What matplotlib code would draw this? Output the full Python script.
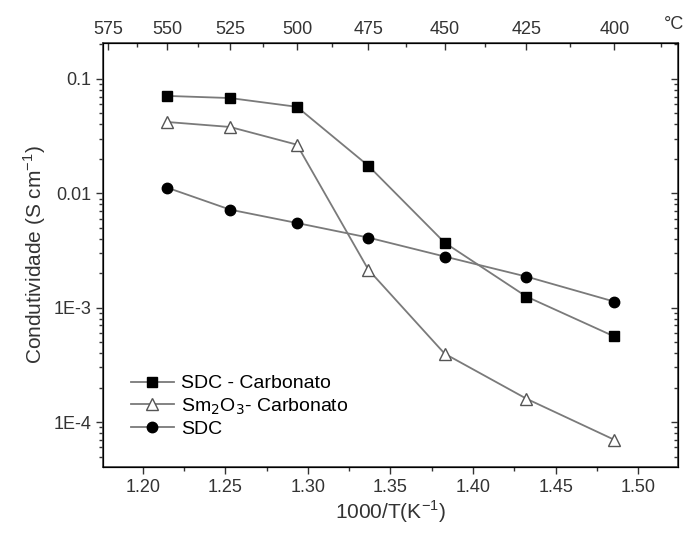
import matplotlib
matplotlib.use("Agg")
import matplotlib.pyplot as plt
from matplotlib.ticker import FixedLocator, NullFormatter, MultipleLocator

plt.rcParams["font.family"] = ["Liberation Sans", "DejaVu Sans"]

# temperatures of the measurements (°C) -> 1000/T(K)
temps_c = [550, 525, 500, 475, 450, 425, 400]
inv_t = [1000.0 / (t + 273.15) for t in temps_c]

sdc_carb = [0.071, 0.068, 0.057, 0.0174, 0.0037, 0.00125, 0.00056]
sm2o3_carb = [0.042, 0.038, 0.0266, 0.00215, 0.000396, 0.00016, 0.000070]
sdc = [0.0112, 0.0072, 0.0055, 0.0041, 0.0028, 0.00187, 0.00113]

top_major = [575, 550, 525, 500, 475, 450, 425, 400]
top_minor = [562.5, 537.5, 512.5, 487.5, 462.5, 437.5, 412.5, 387.5]

y_ticks = [0.1, 0.01, 1e-3, 1e-4]
y_labels = ["0.1", "0.01", "1E-3", "1E-4"]
y_minor = [k * 10.0 ** e for e in range(-5, 0) for k in range(2, 10)]

line_col = "#7a7a7a"
text_col = "#333333"

fig = plt.figure(figsize=(6.84, 5.34), dpi=100)
ax = fig.add_axes([0.1506, 0.1255, 0.8404, 0.794])

ax.plot(inv_t, sdc_carb, "-", color=line_col, lw=1.3, marker="s", ms=7,
        mfc="black", mec="black", label="SDC - Carbonato")
ax.plot(inv_t, sm2o3_carb, "-", color=line_col, lw=1.3, marker="^", ms=8,
        mfc="white", mec="#555555", mew=1.0, label="Sm$_2$O$_3$- Carbonato")
ax.plot(inv_t, sdc, "-", color=line_col, lw=1.3, marker="o", ms=7.5,
        mfc="black", mec="black", label="SDC")

ax.set_yscale("log")
ax.set_xlim(1.176, 1.524)
ax.set_ylim(4.05e-5, 0.206)

ax.xaxis.set_major_locator(FixedLocator([1.20, 1.25, 1.30, 1.35, 1.40, 1.45, 1.50]))
ax.xaxis.set_minor_locator(MultipleLocator(0.025))
ax.set_xticklabels(["1.20", "1.25", "1.30", "1.35", "1.40", "1.45", "1.50"])

ax.yaxis.set_major_locator(FixedLocator(y_ticks))
ax.set_yticklabels(y_labels)
ax.yaxis.set_minor_locator(FixedLocator(y_minor))
ax.yaxis.set_minor_formatter(NullFormatter())

ax.tick_params(axis="both", which="major", direction="out", length=5, width=1,
               labelsize=13, colors=text_col)
ax.tick_params(axis="both", which="minor", direction="out", length=3, width=1,
               colors=text_col)
for s in ax.spines.values():
    s.set_linewidth(1.2)
    s.set_color("#444444")

# right side: inward ticks, no labels
axr = ax.twinx()
axr.set_yscale("log")
axr.set_ylim(ax.get_ylim())
axr.yaxis.set_major_locator(FixedLocator(y_ticks))
axr.yaxis.set_minor_locator(FixedLocator(y_minor))
axr.yaxis.set_major_formatter(NullFormatter())
axr.yaxis.set_minor_formatter(NullFormatter())
axr.tick_params(which="major", direction="in", length=5, width=1, colors=text_col)
axr.tick_params(which="minor", direction="in", length=3, width=1, colors=text_col)

# top axis in °C
axt = ax.twiny()
axt.set_xlim(ax.get_xlim())
axt.xaxis.set_major_locator(FixedLocator([1000.0 / (t + 273.15) for t in top_major]))
axt.set_xticklabels([str(t) for t in top_major])
axt.xaxis.set_minor_locator(FixedLocator([1000.0 / (t + 273.15) for t in top_minor]))
axt.tick_params(which="major", direction="in", length=5, width=1, labelsize=13,
                colors=text_col)
axt.tick_params(which="minor", direction="in", length=3, width=1, colors=text_col)
fig.text(0.985, 0.955, "°C", fontsize=13, color=text_col, ha="center", va="center")

ax.set_xlabel("1000/T(K$^{\\mathregular{-1}}$)", fontsize=15, color=text_col, labelpad=2)
ax.set_ylabel("Condutividade (S cm$^{\\mathregular{-1}}$)", fontsize=15, color=text_col,
              labelpad=4)

ax.legend(loc="lower left", bbox_to_anchor=(0.035, 0.05), frameon=False, fontsize=14,
          handlelength=2.2, handletextpad=0.4, labelspacing=0.2, borderaxespad=0)

fig.savefig("out.png", dpi=100)
